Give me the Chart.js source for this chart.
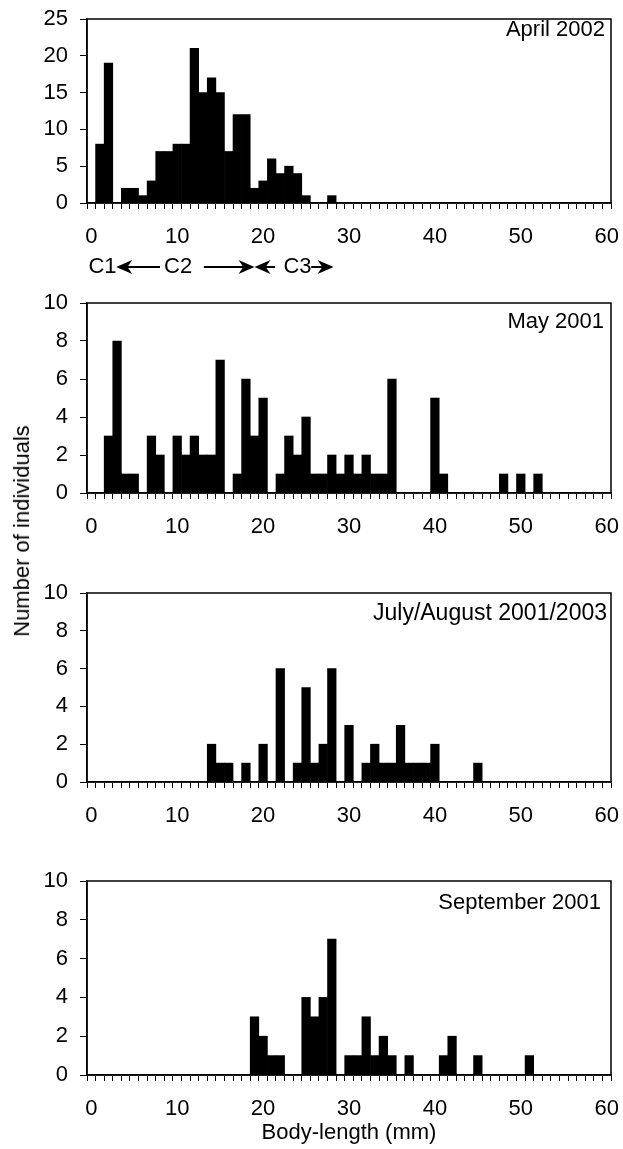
<!DOCTYPE html>
<html>
<head>
<meta charset="utf-8">
<script src="https://cdn.jsdelivr.net/npm/chart.js@4.4.1/dist/chart.umd.min.js"></script>
<style>
  html, body { margin: 0; padding: 0; background: #fff; }
  #wrap { position: relative; width: 623px; height: 1149px; overflow: hidden; font-family: "Liberation Sans", Arial, sans-serif; }
  #wrap canvas { position: absolute; left: 0; }
  #ytitle { position: absolute; left: 22px; top: 531px; transform: translate(-50%, -50%) rotate(-90deg); font-size: 22px; white-space: nowrap; color: #000; }
</style>
</head>
<body>
<div id="wrap">
  <canvas id="p1"></canvas>
  <canvas id="p2"></canvas>
  <canvas id="p3"></canvas>
  <canvas id="p4"></canvas>
  <div id="ytitle">Number of individuals</div>
</div>
<script>
// body-length classes (mm), one bar per class
const lengthBins = Array.from({ length: 61 }, (_, i) => String(i));
const xTickLabels = ['0', '10', '20', '30', '40', '50', '60'];

// counts per 1 mm class
const april2002 = [
  0, 8, 19, 0, 2, 2, 1, 3, 7, 7,
  8, 8, 21, 15, 17, 15, 7, 12, 12, 2,
  3, 6, 4, 5, 4, 1, 0, 0, 1, 0,
  0, 0, 0, 0, 0, 0, 0, 0, 0, 0,
  0, 0, 0, 0, 0, 0, 0, 0, 0, 0,
  0, 0, 0, 0, 0, 0, 0, 0, 0, 0,
  0
];
const may2001 = [
  0, 0, 3, 8, 1, 1, 0, 3, 2, 0,
  3, 2, 3, 2, 2, 7, 0, 1, 6, 3,
  5, 0, 1, 3, 2, 4, 1, 1, 2, 1,
  2, 1, 2, 1, 1, 6, 0, 0, 0, 0,
  5, 1, 0, 0, 0, 0, 0, 0, 1, 0,
  1, 0, 1, 0, 0, 0, 0, 0, 0, 0,
  0
];
const julyAug2001_2003 = [
  0, 0, 0, 0, 0, 0, 0, 0, 0, 0,
  0, 0, 0, 0, 2, 1, 1, 0, 1, 0,
  2, 0, 6, 0, 1, 5, 1, 2, 6, 0,
  3, 0, 1, 2, 1, 1, 3, 1, 1, 1,
  2, 0, 0, 0, 0, 1, 0, 0, 0, 0,
  0, 0, 0, 0, 0, 0, 0, 0, 0, 0,
  0
];
const september2001 = [
  0, 0, 0, 0, 0, 0, 0, 0, 0, 0,
  0, 0, 0, 0, 0, 0, 0, 0, 0, 3,
  2, 1, 1, 0, 0, 4, 3, 4, 7, 0,
  1, 1, 3, 1, 2, 1, 0, 1, 0, 0,
  0, 1, 2, 0, 0, 1, 0, 0, 0, 0,
  0, 1, 0, 0, 0, 0, 0, 0, 0, 0,
  0
];

// cohort markers under the April panel (in class units)
const cohortLabels = [{ text: 'C1', at: 1.3 }, { text: 'C2', at: 10.1 }, { text: 'C3', at: 24 }];
const cohortArrows = [{ from: 8, to: 2.9 }, { from: 13.1, to: 19 }, { from: 21.4, to: 19 }, { from: 25.6, to: 28.2 }];

const FONT = '"Liberation Sans", Arial, sans-serif';
const fontSize = 22;
const PAD_TOP = 14;

const panels = [
  { id: 'p1', title: 'April 2002', data: april2002, yMax: 25, yStep: 5, top: 19, bottom: 203, axisH: 80, titleDy: 17, titleInset: 6, titleSize: 22, cohorts: true },
  { id: 'p2', title: 'May 2001', data: may2001, yMax: 10, yStep: 2, top: 303, bottom: 493, axisH: 70, titleDy: 25, titleInset: 7, titleSize: 22 },
  { id: 'p3', title: 'July/August 2001/2003', data: julyAug2001_2003, yMax: 10, yStep: 2, top: 593, bottom: 782, axisH: 70, titleDy: 27, titleInset: 4, titleSize: 23 },
  { id: 'p4', title: 'September 2001', data: september2001, yMax: 10, yStep: 2, top: 881, bottom: 1075, axisH: 71, titleDy: 28, titleInset: 10, titleSize: 22, xTitle: 'Body-length (mm)' }
];

function arrow(ctx, x1, x2, y) {
  const dir = x2 > x1 ? 1 : -1;
  const L = 16, W = 7;
  ctx.beginPath();
  ctx.moveTo(x1, y);
  ctx.lineTo(x2 - dir * L * 0.6, y);
  ctx.stroke();
  ctx.beginPath();
  ctx.moveTo(x2, y);
  ctx.lineTo(x2 - dir * L, y - W);
  ctx.lineTo(x2 - dir * L * 0.7, y);
  ctx.lineTo(x2 - dir * L, y + W);
  ctx.closePath();
  ctx.fill();
}

function decor(p) {
  return {
    id: 'decor',
    afterDraw(chart) {
      const { ctx, chartArea: a } = chart;
      ctx.save();
      ctx.strokeStyle = '#000';
      ctx.lineWidth = 1.5;
      ctx.strokeRect(a.left, a.top, a.right - a.left, a.bottom - a.top);

      ctx.fillStyle = '#000';
      ctx.font = p.titleSize + 'px ' + FONT;
      ctx.textAlign = 'right';
      ctx.textBaseline = 'alphabetic';
      ctx.fillText(p.title, a.right - p.titleInset, a.top + p.titleDy);

      if (p.cohorts) {
        const xs = chart.scales.x;
        const y = a.bottom + 64;
        ctx.font = fontSize + 'px ' + FONT;
        ctx.textAlign = 'center';
        ctx.textBaseline = 'middle';
        cohortLabels.forEach(c => ctx.fillText(c.text, xs.getPixelForValue(c.at), y));
        ctx.lineWidth = 2;
        cohortArrows.forEach(r => arrow(ctx, xs.getPixelForValue(r.from), xs.getPixelForValue(r.to), y));
      }
      ctx.restore();
    }
  };
}

panels.forEach(p => {
  const cv = document.getElementById(p.id);
  const h = PAD_TOP + (p.bottom - p.top) + p.axisH;
  cv.width = 623;
  cv.height = h;
  cv.style.top = (p.top - PAD_TOP) + 'px';

  new Chart(cv, {
    type: 'bar',
    data: {
      labels: lengthBins,
      datasets: [{
        data: p.data,
        backgroundColor: '#000',
        borderWidth: 0,
        barPercentage: 1,
        categoryPercentage: 1
      }]
    },
    options: {
      responsive: false,
      animation: false,
      events: [],
      layout: { padding: { top: PAD_TOP, right: 12, left: 0, bottom: 0 } },
      plugins: { legend: { display: false }, tooltip: { enabled: false } },
      scales: {
        x: {
          type: 'category',
          offset: true,
          grid: { offset: true, drawOnChartArea: false, drawTicks: true, tickLength: 6, color: '#000', lineWidth: 1 },
          border: { display: true, color: '#000', width: 1.5 },
          ticks: {
            autoSkip: false, maxRotation: 0, minRotation: 0, padding: 15, color: '#000',
            font: { family: FONT, size: fontSize },
            callback: (v, i) => xTickLabels.includes(lengthBins[i]) ? lengthBins[i] : ''
          },
          title: p.xTitle
            ? { display: true, text: p.xTitle, color: '#000', font: { family: FONT, size: fontSize }, padding: 0 }
            : { display: false },
          afterFit: s => { s.height = p.axisH; s.paddingLeft = 0; s.paddingRight = 0; }
        },
        y: {
          min: 0, max: p.yMax,
          ticks: { stepSize: p.yStep, padding: 12, color: '#000', font: { family: FONT, size: fontSize } },
          grid: { drawOnChartArea: false, tickLength: 7, color: '#000', lineWidth: 1 },
          border: { display: true, color: '#000', width: 1.5 },
          afterFit: s => { s.width = 87; s.paddingTop = 0; s.paddingBottom = 0; }
        }
      }
    },
    plugins: [decor(p)]
  });
});
</script>
</body>
</html>
